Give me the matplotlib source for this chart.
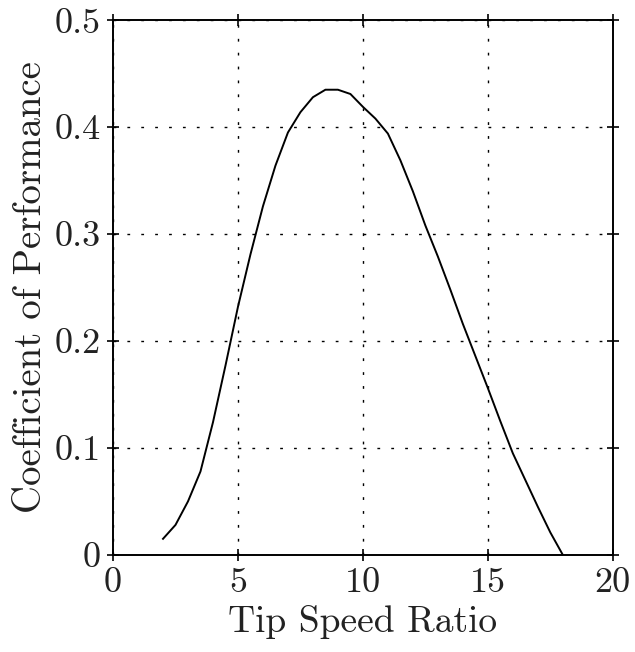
import matplotlib
matplotlib.use("Agg")
import matplotlib.pyplot as plt

# tip speed ratio vs power coefficient
tsr = [2.0, 2.5, 3.0, 3.5, 4.0, 4.5, 5.0, 5.5, 6.0, 6.5, 7.0, 7.5, 8.0, 8.5,
       9.0, 9.5, 10.0, 10.5, 11.0, 11.5, 12.0, 12.5, 13.0, 13.5, 14.0, 14.5,
       15.0, 15.5, 16.0, 16.5, 17.0, 17.5, 18.0]
cp = [0.015, 0.028, 0.050, 0.078, 0.124, 0.177, 0.232, 0.281, 0.326, 0.364,
      0.395, 0.414, 0.428, 0.435, 0.435, 0.431, 0.419, 0.408, 0.394, 0.369,
      0.340, 0.308, 0.279, 0.248, 0.216, 0.186, 0.156, 0.125, 0.095, 0.070,
      0.045, 0.021, 0.0]

xticks = [0, 5, 10, 15, 20]
yticks = [0, 0.1, 0.2, 0.3, 0.4, 0.5]
ytick_labels = ["0", "0.1", "0.2", "0.3", "0.4", "0.5"]

plt.rcParams['font.family'] = ['cmr10', 'DejaVu Serif']
plt.rcParams['axes.formatter.use_mathtext'] = True

fig = plt.figure(figsize=(6.35, 6.52), dpi=100)
ax = fig.add_axes([0.178, 0.149, 0.787, 0.820])

ax.plot(tsr, cp, color='black', linewidth=1.4)

ax.set_xlim(0, 20)
ax.set_ylim(0, 0.5)
ax.set_xticks(xticks)
ax.set_xticklabels([str(t) for t in xticks])
ax.set_yticks(yticks)
ax.set_yticklabels(ytick_labels)

ax.grid(True, color='black', linewidth=1.0, linestyle=(0, (2, 8)))
ax.tick_params(direction='inout', length=8, width=1.2, labelsize=26,
               top=True, right=True, pad=5, labelcolor='#222222')
for s in ax.spines.values():
    s.set_linewidth(1.4)

ax.set_xlabel("Tip Speed Ratio", fontsize=27, labelpad=4, color='#222222')
ax.set_ylabel("Coefficient of Performance", fontsize=28, labelpad=4,
              color='#222222')

fig.savefig("out.png", dpi=100)
